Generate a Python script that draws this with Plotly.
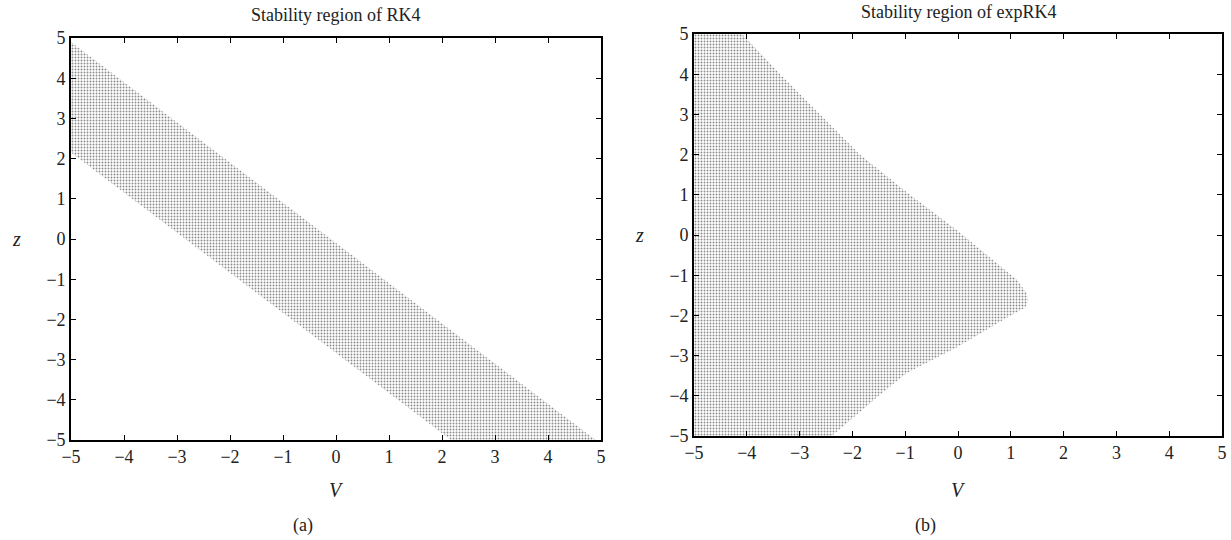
import plotly.graph_objects as go

# Panel (a): RK4 stability band (boundary vertices)
rk4_v = [-5.0, 4.9, 2.17, -5.0]
rk4_z = [4.9, -5.0, -5.0, 2.15]

# Panel (b): expRK4 stability region boundary
exp_v = [-5.0, -4.09, -3.37, -2.61, -1.86, -0.91, -0.02, 1.12, 1.30, 1.33, 1.28, 0.86, -0.02, -0.97, -1.50, -2.39, -5.0]
exp_z = [5.0, 5.0, 4.0, 3.0, 2.0, 1.0, 0.12, -1.12, -1.45, -1.62, -1.80, -2.11, -2.79, -3.43, -4.0, -5.0, -5.0]

tick_vals = [-5, -4, -3, -2, -1, 0, 1, 2, 3, 4, 5]
titles = ["Stability region of RK4", "Stability region of expRK4"]
panel_labels = ["(a)", "(b)"]

FONT = "Liberation Serif, Times New Roman, serif"
W, H = 1231, 540

pattern = dict(shape=".", size=3, solidity=0.3, fgcolor="#8a8a8a", bgcolor="white", fillmode="replace")

fig = go.Figure()
fig.add_trace(go.Scatter(x=rk4_v, y=rk4_z, mode="lines", fill="toself",
                         line=dict(width=0, color="rgba(0,0,0,0)"),
                         fillpattern=pattern, fillcolor="white",
                         xaxis="x", yaxis="y", showlegend=False, hoverinfo="skip"))
fig.add_trace(go.Scatter(x=exp_v, y=exp_z, mode="lines", fill="toself",
                         line=dict(width=0, color="rgba(0,0,0,0)"),
                         fillpattern=pattern, fillcolor="white",
                         xaxis="x2", yaxis="y2", showlegend=False, hoverinfo="skip"))

# pixel boxes of plot areas
boxes = [(71, 601, 38, 440), (694, 1222, 34, 436)]
title_y = [15, 12]
caption_x = [303, 925]

def ax(domain):
    return dict(domain=domain, range=[-5, 5], tickvals=tick_vals, ticks="inside", ticklen=5,
                tickwidth=1.2, tickcolor="black", showline=True, linecolor="black", linewidth=1.6,
                mirror="allticks", showgrid=False, zeroline=False, automargin=False,
                tickfont=dict(family=FONT, size=18, color="#222"))

layout = dict(width=W, height=H, margin=dict(l=0, r=0, t=0, b=0, pad=0, autoexpand=False),
              paper_bgcolor="white", plot_bgcolor="white", showlegend=False)
for i, (x0, x1, y0, y1) in enumerate(boxes):
    xd = [x0 / W, x1 / W]
    yd = [1 - y1 / H, 1 - y0 / H]
    sfx = "" if i == 0 else "2"
    xa = ax(xd)
    ya = ax(yd)
    xa["anchor"] = "y" + sfx
    ya["anchor"] = "x" + sfx
    layout["xaxis" + sfx] = xa
    layout["yaxis" + sfx] = ya
fig.update_layout(**layout)

annos = []
for i, (x0, x1, y0, y1) in enumerate(boxes):
    cx = (x0 + x1) / 2 / W
    common = dict(xref="paper", yref="paper", showarrow=False, xanchor="center", yanchor="middle")
    annos.append(dict(text=titles[i], x=cx, y=1 - title_y[i] / H,
                      font=dict(family=FONT, size=18, color="#222"), **common))
    annos.append(dict(text="<i>V</i>", x=cx, y=1 - 490 / H,
                      font=dict(family=FONT, size=20, color="#222"), **common))
    annos.append(dict(text=panel_labels[i], x=caption_x[i] / W, y=1 - 525 / H,
                      font=dict(family=FONT, size=18, color="#222"), **common))
    annos.append(dict(text="<i>z</i>", x=(x0 - 55) / W, y=1 - ((y0 + y1) / 2) / H,
                      font=dict(family=FONT, size=20, color="#222"), **common))
fig.update_layout(annotations=annos)

fig.write_html("out.html", config={"displayModeBar": False},
               post_script="document.body.style.margin='0';document.body.style.overflow='hidden';")
